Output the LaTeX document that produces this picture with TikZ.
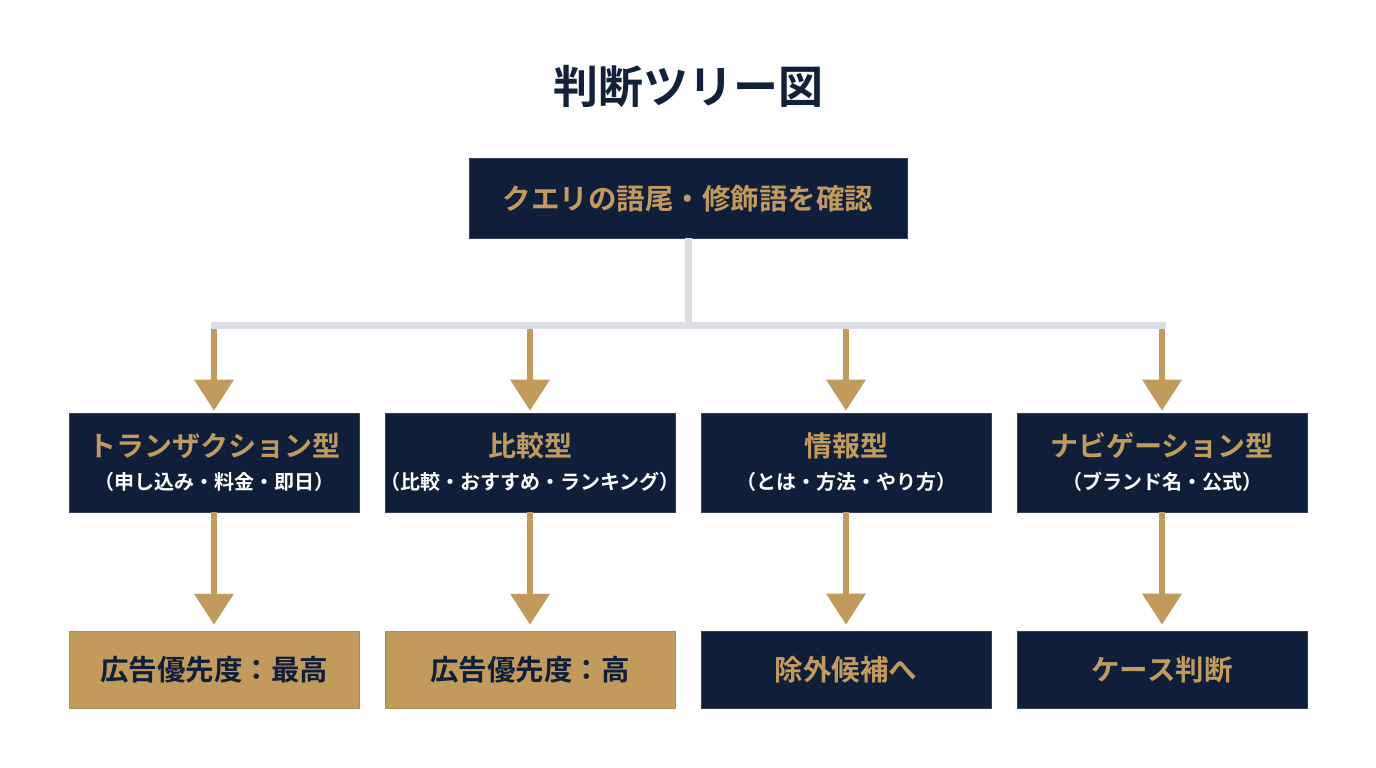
\documentclass[tikz,border=0pt]{standalone}
\usepackage{fontspec}
\setmainfont{Noto Sans CJK JP}[BoldFont={Noto Sans CJK JP Bold}]
\usetikzlibrary{arrows.meta}
\definecolor{navy}{HTML}{0F1F3A}
\definecolor{gold}{HTML}{C19A5C}
\definecolor{linegray}{HTML}{DCDEE6}
\definecolor{titlenavy}{HTML}{13203A}
\begin{document}
\begin{tikzpicture}[x=1pt,y=-1pt,
  navybox/.style={fill=navy, draw=navy!85!white, line width=0.6pt, inner sep=0pt, minimum width=290pt},
  goldbox/.style={fill=gold, draw=gold!90!black, line width=0.4pt, inner sep=0pt, minimum width=290pt},
  midbox/.style={minimum height=99pt},
  lowbox/.style={minimum height=77pt},
  headtxt/.style={inner sep=0pt, text=gold, font=\fontsize{28}{30}\selectfont\bfseries},
  subtxt/.style={inner sep=0pt, text=white, font=\fontsize{20}{22}\selectfont\bfseries},
  goldtxt/.style={inner sep=0pt, text=gold, font=\fontsize{28.5}{30}\selectfont\bfseries},
  navytxt/.style={inner sep=0pt, text=navy, font=\fontsize{28.5}{30}\selectfont\bfseries},
  trunk/.style={draw=linegray, line width=7pt},
  goldarrow/.style={draw=gold, line width=6.5pt, -{Triangle[length=31pt,width=38pt]}},
]
\useasboundingbox (0,0) rectangle (1376,768);
\fill[white] (0,0) rectangle (1376,768);

% title
\node[inner sep=0pt, text=titlenavy, font=\fontsize{45}{48}\selectfont\bfseries] (title) at (688,86) {判断ツリー図};

% top box
\node[navybox, minimum width=438pt, minimum height=80pt] (top) at (688,198) {};
\node[goldtxt] (toptxt) at (688,199) {クエリの語尾・修飾語を確認};

% middle boxes
\node[navybox, midbox] (b1) at (214,462.5) {};
\node[navybox, midbox] (b2) at (530,462.5) {};
\node[navybox, midbox] (b3) at (846,462.5) {};
\node[navybox, midbox] (b4) at (1162,462.5) {};

\node[headtxt] (h1) at (214,446) {トランザクション型};
\node[subtxt]  (s1) at (214,482) {（申し込み・料金・即日）};
\node[headtxt] (h2) at (530,446) {比較型};
\node[subtxt]  (s2) at (530,482) {（比較・おすすめ・ランキング）};
\node[headtxt] (h3) at (846,446) {情報型};
\node[subtxt]  (s3) at (846,482) {（とは・方法・やり方）};
\node[headtxt] (h4) at (1162,446) {ナビゲーション型};
\node[subtxt]  (s4) at (1162,482) {（ブランド名・公式）};

% bottom boxes
\node[goldbox, lowbox] (d1) at (214,669.5) {};
\node[navytxt] (t1) at (214,670) {広告優先度：最高};
\node[goldbox, lowbox] (d2) at (530,669.5) {};
\node[navytxt] (t2) at (530,670) {広告優先度：高};
\node[navybox, lowbox] (d3) at (846,669.5) {};
\node[goldtxt] (t3) at (846,670) {除外候補へ};
\node[navybox, lowbox] (d4) at (1162,669.5) {};
\node[goldtxt] (t4) at (1162,670) {ケース判断};

% connector tree
\coordinate (j0) at (688,325.5);
\coordinate (jL) at (210.5,325.5);
\coordinate (jR) at (1165.5,325.5);
\draw[trunk] (top.south) -- (j0);
\draw[trunk] (jL) -- (jR);

\coordinate (c1) at (214,329);
\coordinate (c2) at (530,329);
\coordinate (c3) at (846,329);
\coordinate (c4) at (1162,329);
\draw[goldarrow, shorten >=2pt] (c1) -- (b1.north);
\draw[goldarrow, shorten >=2pt] (c2) -- (b2.north);
\draw[goldarrow, shorten >=2pt] (c3) -- (b3.north);
\draw[goldarrow, shorten >=2pt] (c4) -- (b4.north);

\draw[goldarrow, shorten >=6pt] (b1.south) -- (d1.north);
\draw[goldarrow, shorten >=6pt] (b2.south) -- (d2.north);
\draw[goldarrow, shorten >=6pt] (b3.south) -- (d3.north);
\draw[goldarrow, shorten >=6pt] (b4.south) -- (d4.north);
\end{tikzpicture}
\end{document}
